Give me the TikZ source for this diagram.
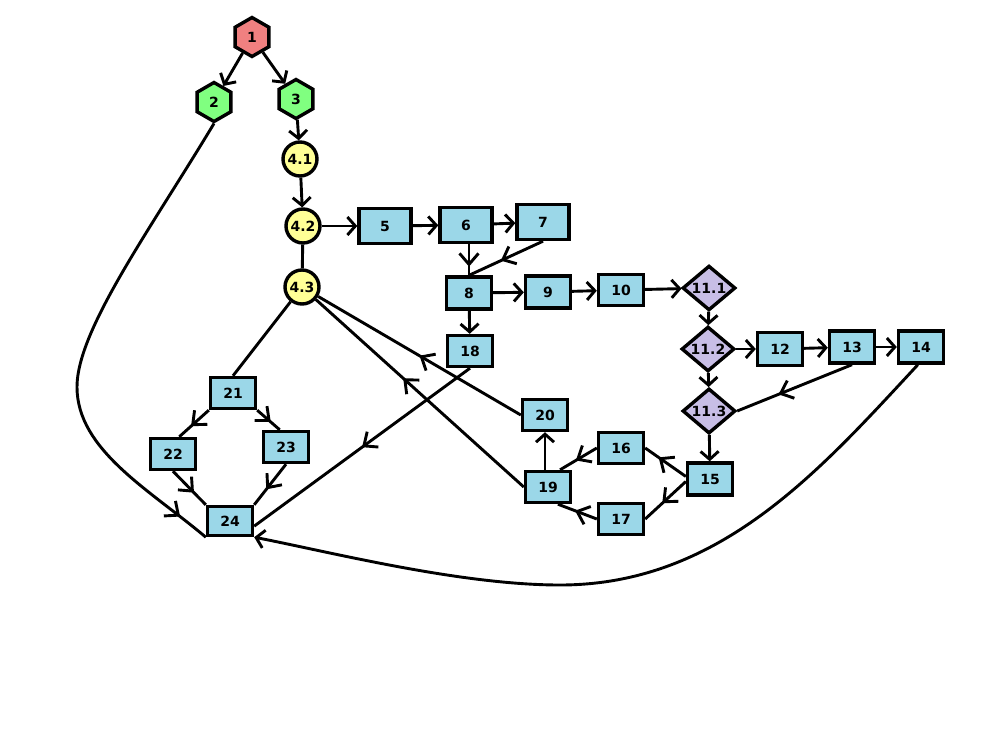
\documentclass[tikz,border=0pt]{standalone}
\usepackage{fontspec}
\setmainfont{DejaVu Sans}
\usetikzlibrary{arrows.meta,shapes.geometric,decorations.markings}

\definecolor{hexred}{RGB}{240,128,128}
\definecolor{hexgreen}{RGB}{128,255,128}
\definecolor{circyellow}{RGB}{255,255,150}
\definecolor{boxblue}{RGB}{155,215,232}
\definecolor{diapurple}{RGB}{200,190,230}

\tikzset{
  barb/.tip={Straight Barb[length=8pt,width=18pt]},
  midbarb/.tip={Straight Barb[length=11pt,width=19pt]},
  lbl/.style={font=\bfseries\fontsize{14}{16}\selectfont, text=black},
  hexa/.style={lbl, draw, line width=3.4pt, regular polygon, regular polygon sides=6,
    shape border rotate=30, minimum size=39pt, inner sep=0pt},
  circ/.style={lbl, draw, line width=3.4pt, circle, fill=circyellow, minimum size=34pt, inner sep=0pt},
  box/.style={lbl, draw, line width=3.4pt, rectangle, fill=boxblue, minimum width=45pt,
    minimum height=31pt, inner sep=0pt},
  bigbox/.style={box, minimum width=52pt, minimum height=35pt},
  dia/.style={lbl, draw, line width=3.4pt, diamond, fill=diapurple, minimum width=53pt,
    minimum height=40pt, inner sep=0pt},
  ln/.style={line width=2.9pt},
  fwd/.style={ln, -{barb}},
  mid/.style={ln, postaction={decorate},
    decoration={markings, mark=at position #1 with {\arrow{midbarb}}}},
}

\begin{document}
\begin{tikzpicture}[x=1pt, y=-1pt]
  \fill[white] (0,0) rectangle (990,742);
  \useasboundingbox (0,0) rectangle (990,742);

  % start and first split
  \node[hexa, fill=hexred]   (n1) at (252,37) {1};
  \node[hexa, fill=hexgreen] (n2) at (214,102) {2};
  \node[hexa, fill=hexgreen] (n3) at (296,99) {3};

  % circles
  \node[circ] (n41) at (300,159) {4.1};
  \node[circ] (n42) at (303,226) {4.2};
  \node[circ] (n43) at (302,287) {4.3};

  % main chain
  \node[bigbox] (n5) at (385,226) {5};
  \node[bigbox] (n6) at (466,225) {6};
  \node[bigbox] (n7) at (543,222) {7};
  \node[box, minimum height=32pt] (n8) at (469,293) {8};
  \node[box, minimum height=32pt] (n9) at (548,292) {9};
  \node[box] (n10) at (621,290) {10};

  % decisions
  \node[dia] (n111) at (709,288) {11.1};
  \node[dia] (n112) at (708,349) {11.2};
  \node[dia] (n113) at (709,411) {11.3};

  \node[box, minimum height=33pt] (n12) at (780,349) {12};
  \node[box, minimum height=32pt] (n13) at (852,347) {13};
  \node[box, minimum height=32pt] (n14) at (921,347) {14};

  % lower right loop
  \node[box, minimum height=32pt] (n15) at (710,479) {15};
  \node[box] (n16) at (621,448) {16};
  \node[box] (n17) at (621,519) {17};
  \node[box] (n18) at (470,351) {18};
  \node[box] (n19) at (548,487) {19};
  \node[box] (n20) at (545,415) {20};

  % lower left group
  \node[box] (n21) at (233,393) {21};
  \node[box] (n22) at (173,454) {22};
  \node[box] (n23) at (286,447) {23};
  \node[box, minimum height=29pt] (n24) at (230,521) {24};

  % connectors of the upper part
  \draw[fwd] (n1) -- (n2);
  \draw[fwd] (n1) -- (n3);
  \draw[fwd] (n3) -- (n41);
  \draw[fwd] (n41) -- (n42);
  \draw[ln]  (n42) -- (n43);
  \draw[fwd] (n42) -- (n5);
  \draw[fwd] (n5) -- (n6);
  \draw[fwd] (n6) -- (n7);
  \draw[mid=0.72] (n8.north |- n6.south) -- (n8.north);
  \draw[mid=0.57] (n7.south) -- (n8.north);
  \draw[fwd] (n8) -- (n9);
  \draw[fwd] (n9) -- (n10);
  \draw[fwd] (n10) -- (n111);
  \draw[fwd] (n8) -- (n18);

  % decisions and right column
  \draw[fwd] (n111) -- (n112);
  \draw[fwd] (n112) -- (n12);
  \draw[fwd] (n12) -- (n13);
  \draw[fwd] (n13) -- (n14);
  \draw[fwd] (n112) -- (n113);
  \draw[fwd] (n113) -- (n15);
  \draw[mid=0.64] (n13.south) -- (n113.east);

  % loop through 16, 17, 19, 20
  \draw[mid=0.67] (n15.174) -- (n16.east);
  \draw[mid=0.58] (n15.186) -- (n17.east);
  \draw[mid=0.57] (n16.west) -- (n19.55);
  \draw[mid=0.56] (n17.west) -- (n19.-60);
  \draw[fwd] (n20.south |- n19.north) -- (n20.south);
  \draw[mid=0.5]  (n20.west) -- (n43);
  \draw[mid=0.58] (n19.west) -- (n43);
  \draw[mid=0.5]  (n18.south) -- (n24.-12);

  % lower left group
  \draw[ln] (n43) -- (n21.north);
  \draw[mid=0.6]  (n21.south west) -- (n22.70);
  \draw[mid=0.6]  (n21.south east) -- (n23.110);
  \draw[mid=0.64] (n22.south) -- (n24.north west);
  \draw[mid=0.62] (n23.south) -- (n24.north east);

  % long curved connectors
  \draw[mid=-33pt] (n2.south) .. controls (150,230) and (77,330) .. (77,387)
    .. controls (77,450) and (150,490) .. (n24.south west);
  \draw[fwd] (n14.-100) .. controls (820,470) and (720,585) .. (560,585)
    .. controls (460,585) and (330,552) .. (n24.south east);
\end{tikzpicture}
\end{document}
